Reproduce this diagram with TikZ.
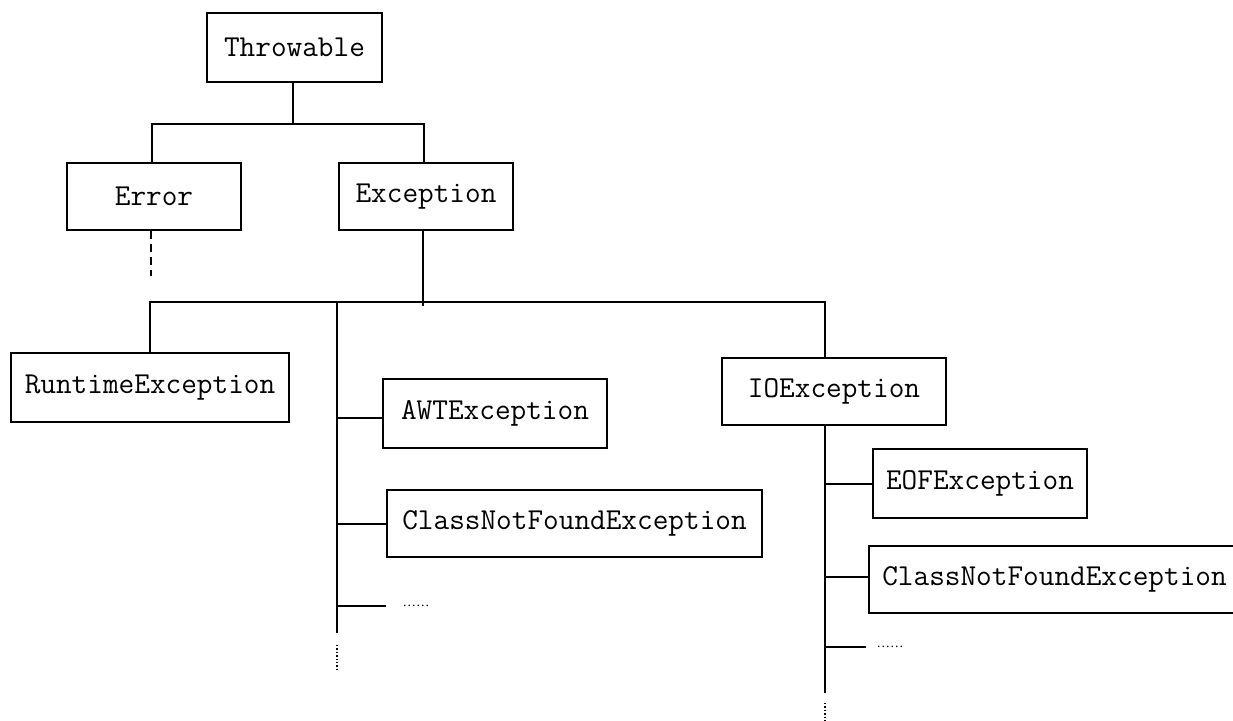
\documentclass[tikz,border=0pt]{standalone}
\usepackage{fontspec}
\newfontfamily\dotfont{Liberation Serif}
\begin{document}
\begin{tikzpicture}[x=1pt,y=-1pt,
  classbox/.style={draw,line width=2pt,inner sep=0pt,font=\fontsize{30.4}{34}\ttfamily},
  link/.style={line width=2pt},
  dashlink/.style={line width=2pt,dash pattern=on 8pt off 5pt},
  dotlink/.style={line width=1.3pt,dash pattern=on 1.3pt off 2.1pt},
  dotstext/.style={inner sep=0pt,font=\fontsize{13.5}{15}\dotfont}]
\useasboundingbox (0,0) rectangle (1233,720);
% nodes (center, width, height)
\node[classbox,minimum width=175pt,minimum height=69pt] (thr) at (294.5,47.5) {Throwable};
\node[classbox,minimum width=174pt,minimum height=67pt] (err) at (154,196.5) {Error};
\node[classbox,minimum width=174pt,minimum height=67pt] (exc) at (426,196.5) {Exception};
\node[classbox,minimum width=278pt,minimum height=69pt] (rt) at (150,387.5) {RuntimeException};
\node[classbox,minimum width=224pt,minimum height=69pt] (awt) at (495,413.5) {AWTException};
\node[classbox,minimum width=375pt,minimum height=67pt] (cnfa) at (574.5,523.5) {ClassNotFoundException};
\node[classbox,minimum width=224pt,minimum height=67pt] (io) at (834,391.5) {IOException};
\node[classbox,minimum width=214pt,minimum height=69pt] (eof) at (980,483.5) {EOFException};
\node[classbox,minimum width=371pt,minimum height=67pt] (cnfb) at (1054.5,579.5) {ClassNotFoundException};
\node[dotstext] (dotsa) at (416,606) {……};
\node[dotstext] (dotsb) at (890,647) {……};
% junction coordinates
\coordinate (bus1) at (0,124);
\coordinate (bus2) at (0,302);
\coordinate (thrStem) at (293,124);
\coordinate (errStem) at (152,124);
\coordinate (excStem) at (424,124);
\coordinate (excend) at (423,306);
\coordinate (errend) at (151,276);
\coordinate (vA) at (337,302);
\coordinate (vAend) at (337,633);
\coordinate (vAdot) at (337,670);
\coordinate (vAdotstart) at (337,645);
\coordinate (ioStem) at (825,302);
\coordinate (vB) at (825,425);
\coordinate (vBend) at (825,693);
\coordinate (vBdotstart) at (825,703);
\coordinate (vBdot) at (825,722);
\coordinate (awtIn) at ([yshift=-4.5pt]awt.west);
\coordinate (cnfbIn) at ([yshift=2.5pt]cnfb.west);
\coordinate (dotsaIn) at ([xshift=-16pt]dotsa.west);
\coordinate (dotsbIn) at ([xshift=-10pt]dotsb.west);
% Throwable level
\draw[link] (thrStem |- thr.south) -- (thrStem);
\draw[link] (errStem |- err.north) -- (errStem) -- (excStem) -- (excStem |- exc.north);
\draw[dashlink] (errend |- err.south) -- (errend);
% Exception level
\draw[link] (excend |- exc.south) -- (excend);
\draw[link] (rt.north) -- (rt.north |- bus2) -- (ioStem) -- (ioStem |- io.north);
\draw[link] (vA) -- (vAend);
\draw[dotlink] (vAdotstart) -- (vAdot);
\draw[link] (awtIn) -- (vA |- awtIn);
\draw[link] (cnfa.west) -- (vA |- cnfa.west);
\draw[link] (vA |- dotsaIn) -- (dotsaIn);
% IOException level
\draw[link] (vB) -- (vBend);
\draw[dotlink] (vBdotstart) -- (vBdot);
\draw[link] (eof.west) -- (vB |- eof.west);
\draw[link] (cnfbIn) -- (vB |- cnfbIn);
\draw[link] (vB |- dotsbIn) -- (dotsbIn);
\end{tikzpicture}
\end{document}
